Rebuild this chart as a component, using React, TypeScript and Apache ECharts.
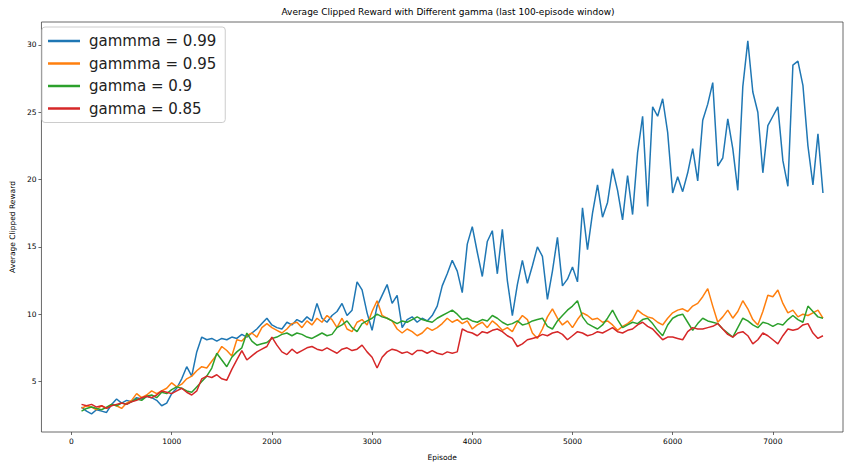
import React, { useEffect, useRef } from "react";
import * as echarts from "echarts";

// Sampling grid of the rolling-average curves (episodes 100..7500, every 50)
const EP_START = 100;
const EP_STEP = 50;

const gamma099 = [
  3.1, 2.8, 2.6, 2.9, 2.8, 2.7, 3.3, 3.7, 3.4, 3.6,
  3.5, 3.8, 3.7, 3.9, 3.8, 3.6, 3.2, 3.4, 4.1, 4.5,
  5.2, 6.1, 5.4, 7.2, 8.3, 8.1, 8.2, 8.0, 8.2, 8.1,
  8.3, 8.2, 8.5, 8.3, 8.6, 8.9, 9.3, 9.7, 9.2, 9.0,
  8.9, 9.4, 9.2, 9.6, 9.4, 9.8, 9.5, 10.8, 9.7, 9.4,
  9.9, 10.2, 10.8, 9.9, 10.3, 12.4, 11.8, 10.1, 8.8, 10.6,
  11.4, 12.2, 10.8, 11.4, 9.0, 9.6, 9.8, 9.4, 9.7, 9.5,
  9.9, 10.6, 12.1, 13.0, 14.0, 13.2, 11.6, 15.2, 16.5, 14.6,
  12.8, 15.4, 16.2, 13.0, 16.3, 12.5, 9.9, 12.2, 14.0, 12.3,
  13.6, 15.0, 14.3, 11.1, 13.2, 15.7, 12.1, 12.6, 13.5, 12.4,
  17.9, 14.8, 17.5, 19.6, 17.2, 18.3, 20.8, 19.2, 17.0, 20.3,
  17.4, 22.0, 24.7, 18.0, 25.4, 24.7, 26.0, 23.5, 19.0, 20.2,
  19.1, 20.5, 22.3, 19.9, 24.4, 25.6, 27.2, 21.0, 21.6, 24.5,
  22.3, 19.2, 26.9, 30.3, 26.5, 25.0, 20.5, 24.0, 24.7, 25.4,
  21.4, 19.5, 28.5, 28.8, 27.0, 22.5, 19.6, 23.4, 19.0,
];

const gamma095 = [
  3.0, 3.2, 3.1, 2.9, 3.2, 3.0, 3.3, 3.2, 3.0, 3.4,
  3.6, 4.1, 3.8, 4.0, 4.3, 4.1, 4.3, 4.5, 4.9, 4.6,
  4.8, 5.2, 5.4, 5.8, 6.1, 6.0, 6.5, 7.0, 7.6, 7.3,
  6.9, 8.1, 8.0, 8.4, 8.6, 8.3, 9.0, 9.3, 9.0, 8.8,
  8.6, 8.9, 9.3, 9.4, 9.0, 9.5, 9.2, 9.7, 9.4, 9.9,
  9.6, 9.0, 9.7, 8.9, 8.7, 9.4, 9.6, 9.2, 10.2, 11.0,
  9.9, 9.7, 9.5, 8.9, 8.6, 8.9, 8.7, 8.4, 8.6, 9.0,
  8.8, 9.0, 9.3, 9.7, 9.4, 9.6, 9.3, 9.5, 8.9, 9.2,
  9.4, 9.0, 9.5, 9.2, 8.8, 9.0, 8.7, 9.4, 9.9, 9.6,
  8.6, 8.2, 8.9, 9.8, 10.4, 9.7, 9.2, 9.5, 9.0, 9.6,
  10.1, 9.9, 9.6, 9.7, 9.4, 9.5, 9.2, 8.8, 9.1, 9.3,
  9.6, 10.3, 10.0, 9.8, 9.7, 9.4, 9.2, 9.7, 10.1, 10.3,
  10.4, 10.2, 10.6, 10.8, 11.3, 11.9, 10.6, 9.4, 9.8, 10.3,
  9.7, 10.2, 11.0, 10.4, 9.6, 9.2, 10.2, 11.4, 11.3, 11.8,
  10.8, 10.1, 10.3, 9.8, 10.0, 9.9, 10.1, 10.3, 9.7,
];

const gamma090 = [
  2.8, 3.0, 3.1, 3.0, 2.9, 3.1, 3.3, 3.2, 3.4, 3.3,
  3.5, 3.7, 3.6, 3.9, 4.0, 3.8, 4.2, 4.1, 4.4, 4.6,
  4.5, 4.3, 4.2, 4.6, 5.0, 5.4, 6.0, 7.1, 6.6, 6.1,
  6.8, 7.2, 7.5, 8.6, 8.0, 7.7, 7.8, 7.9, 8.2, 8.3,
  8.5, 8.6, 8.4, 8.6, 8.5, 8.3, 8.2, 8.4, 8.6, 8.4,
  8.5, 9.0, 9.2, 9.5, 9.0, 8.7, 9.3, 9.5, 9.7, 10.0,
  9.8, 9.7, 9.5, 9.3, 9.5, 9.4, 9.6, 9.8, 9.6, 9.5,
  9.4, 9.7, 9.9, 10.1, 10.3, 10.0, 9.6, 9.7, 9.5, 9.4,
  9.6, 9.5, 9.9, 9.7, 9.4, 9.2, 9.3, 9.5, 9.2, 9.3,
  9.5, 9.6, 9.7, 9.1, 8.9, 9.5, 9.9, 10.3, 10.6, 11.0,
  9.8, 9.3, 9.1, 8.9, 9.2, 9.7, 10.3, 9.6, 9.0, 9.2,
  9.4, 9.3, 9.6, 9.7, 9.3, 8.8, 8.4, 9.2, 9.7, 9.9,
  10.0, 9.4, 8.8, 9.3, 9.7, 9.5, 9.4, 9.3, 8.9, 8.6,
  8.3, 9.0, 9.7, 9.5, 9.2, 9.0, 9.4, 9.3, 9.1, 9.3,
  9.2, 9.6, 9.9, 9.6, 9.4, 10.6, 10.2, 9.8, 9.7,
];

const gamma085 = [
  3.3, 3.2, 3.3, 3.1, 3.2, 3.0, 3.2, 3.3, 3.4, 3.3,
  3.5, 3.6, 3.8, 3.9, 3.8, 4.0, 4.3, 4.2, 4.1, 4.3,
  4.5, 4.2, 4.0, 4.3, 5.2, 5.4, 5.3, 5.5, 5.2, 5.1,
  5.9, 6.6, 7.3, 6.6, 6.9, 7.2, 7.4, 7.6, 8.3, 7.7,
  7.2, 7.0, 7.4, 7.1, 7.3, 7.5, 7.6, 7.4, 7.3, 7.5,
  7.3, 7.1, 7.4, 7.5, 7.3, 7.4, 7.7, 7.2, 6.8, 6.0,
  6.8, 7.2, 7.4, 7.3, 7.1, 7.2, 7.0, 7.3, 7.3, 7.1,
  7.3, 7.1, 7.0, 7.2, 7.1, 7.2, 8.9, 8.7, 8.6, 8.4,
  8.7, 8.6, 8.8, 8.9, 8.7, 8.4, 8.2, 7.6, 7.8, 8.1,
  8.2, 8.3, 8.5, 8.4, 8.6, 8.7, 8.5, 8.1, 8.4, 8.7,
  8.6, 8.4, 8.5, 8.7, 8.6, 8.8, 9.0, 8.7, 8.6, 8.8,
  8.9, 9.2, 9.4, 9.1, 8.9, 8.5, 8.1, 8.3, 8.3, 8.2,
  8.1, 8.7, 9.0, 8.9, 8.9, 9.0, 9.1, 9.3, 8.9, 8.5,
  8.3, 8.6, 8.7, 8.4, 7.8, 8.1, 8.6, 8.4, 8.1, 7.8,
  8.4, 8.9, 8.8, 8.9, 9.2, 9.3, 8.6, 8.2, 8.4,
];

const seriesNames = ["gammma = 0.99", "gammma = 0.95", "gamma = 0.9", "gamma = 0.85"];
const seriesColors = ["#1f77b4", "#ff7f0e", "#2ca02c", "#d62728"];
const xTicks = [0, 1000, 2000, 3000, 4000, 5000, 6000, 7000];
const yTicks = [5, 10, 15, 20, 25, 30];

const FONT = "DejaVu Sans";

function toPairs(values: number[]) {
  return values.map((v, i) => [EP_START + i * EP_STEP, v]);
}

export default function App() {
  const ref = useRef<HTMLDivElement>(null);

  useEffect(() => {
    if (!ref.current) return;
    const chart = echarts.init(ref.current, null, { renderer: "svg" });
    const all = [gamma099, gamma095, gamma090, gamma085];
    chart.setOption({
      animation: false,
      backgroundColor: "#ffffff",
      textStyle: { fontFamily: FONT },
      graphic: [
        {
          type: "text",
          x: 448,
          y: 12,
          style: {
            text: "Average Clipped Reward with Different gamma (last 100-episode window)",
            fontFamily: FONT,
            fontSize: 9,
            fill: "#000",
            textAlign: "center",
            textVerticalAlign: "middle",
          },
        },
      ],
      legend: {
        show: true,
        orient: "vertical",
        left: 42,
        top: 27,
        data: seriesNames,
        itemWidth: 32,
        itemHeight: 2.5,
        itemGap: 4.5,
        icon: "rect",
        padding: [5, 9, 5, 6],
        backgroundColor: "rgba(255,255,255,0.8)",
        borderColor: "#cccccc",
        borderWidth: 1,
        borderRadius: 3,
        textStyle: {
          fontFamily: FONT,
          fontSize: 15,
          lineHeight: 18,
          color: "#222",
          padding: [0, 0, 0, 4],
        },
      },
      grid: {
        left: 37,
        right: 7,
        top: 22,
        bottom: 28,
        show: true,
        borderColor: "#444",
        borderWidth: 0.8,
        backgroundColor: "transparent",
      },
      xAxis: {
        type: "value",
        min: -300,
        max: 7700,
        name: "Episode",
        nameLocation: "middle",
        nameGap: 21,
        nameTextStyle: { fontFamily: FONT, fontSize: 7.5, color: "#000" },
        axisLine: { show: false, onZero: false },
        splitLine: { show: false },
        axisTick: {
          show: true,
          inside: false,
          length: 3,
          lineStyle: { color: "#444", width: 0.8 },
          customValues: xTicks,
        },
        axisLabel: {
          show: true,
          fontFamily: FONT,
          fontSize: 7.5,
          color: "#000",
          margin: 5,
          customValues: xTicks,
          formatter: (v: number) => String(v),
        },
      },
      yAxis: {
        type: "value",
        min: 1.25,
        max: 31.7,
        name: "Average Clipped Reward",
        nameLocation: "middle",
        nameGap: 22,
        nameRotate: 90,
        nameTextStyle: { fontFamily: FONT, fontSize: 7.5, color: "#000" },
        axisLine: { show: false, onZero: false },
        splitLine: { show: false },
        axisTick: {
          show: true,
          inside: false,
          length: 3,
          lineStyle: { color: "#444", width: 0.8 },
          customValues: yTicks,
        },
        axisLabel: {
          show: true,
          fontFamily: FONT,
          fontSize: 7.5,
          color: "#000",
          margin: 5,
          customValues: yTicks,
          formatter: (v: number) => String(v),
        },
      },
      series: all.map((vals, i) => ({
        name: seriesNames[i],
        type: "line",
        data: toPairs(vals),
        showSymbol: false,
        symbol: "none",
        color: seriesColors[i],
        lineStyle: { color: seriesColors[i], width: 1.5 },
        emphasis: { disabled: true },
      })),
    });
    return () => chart.dispose();
  }, []);

  return (
    <div
      ref={ref}
      style={{ position: "fixed", left: 0, top: 0, width: 850, height: 466 }}
    />
  );
}
